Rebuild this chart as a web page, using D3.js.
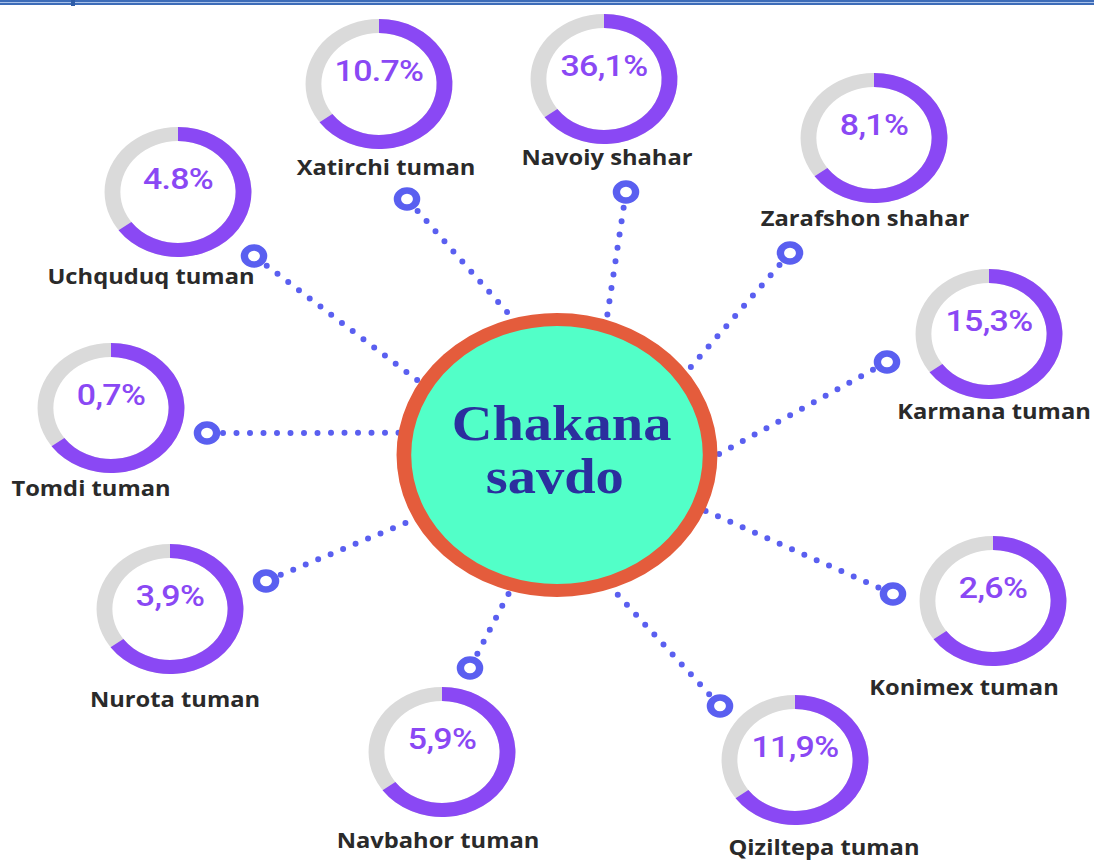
<!DOCTYPE html>
<html>
<head>
<meta charset="utf-8">
<script src="https://cdn.jsdelivr.net/npm/d3@7"></script>
<style>
  html, body { margin: 0; padding: 0; background: #fff; }
  svg { display: block; }
</style>
</head>
<body>
<svg id="chart" width="1094" height="863"></svg>
<script>
// data
const regions = ["Xatirchi tuman", "Navoiy shahar", "Uchquduq tuman", "Zarafshon shahar", "Karmana tuman",
                 "Tomdi tuman", "Nurota tuman", "Navbahor tuman", "Qiziltepa tuman", "Konimex tuman"];
const shares = [10.7, 36.1, 4.8, 8.1, 15.3, 0.7, 3.9, 5.9, 11.9, 2.6];
const shareLabels = ["10.7%", "36,1%", "4.8%", "8,1%", "15,3%", "0,7%", "3,9%", "5,9%", "11,9%", "2,6%"];
const centerTitle = ["Chakana", "savdo"];

// layout (screen px): donut centre, label centre/baseline, connector node, hub angle
const donutPos = [[379, 84], [604, 79], [178, 192], [874, 138], [989, 334],
                  [111, 408], [170, 609], [442, 752], [795, 760], [993, 601]];
const labelPos = [[386, 175], [607, 165], [151, 284], [865, 226], [994, 419],
                  [91, 496], [175, 707], [438, 848], [824, 855], [964, 695]];
const nodePos = [[407, 199], [626, 192], [254, 256], [790, 253], [887, 362],
                 [207, 433], [266, 581], [470, 668], [720, 706], [893, 594]];
const hubAngle = [254, 288, 211, 324, 0, 189, 153, 107, 70, 23];

const sx = 1.13;               // the whole picture is a bit stretched sideways
const hub = {x: 557, y: 455, r: 142};
const ringShare = 0.65;        // each ring is drawn with the same filled part

const svg = d3.select("#chart");

// header rule at the very top
svg.append("rect").attr("x", 0).attr("y", 0).attr("width", 1094).attr("height", 2).attr("fill", "#3d6cb8");
svg.append("rect").attr("x", 0).attr("y", 2).attr("width", 1094).attr("height", 1).attr("fill", "#a9c1e9");
svg.append("rect").attr("x", 0).attr("y", 3).attr("width", 1094).attr("height", 2).attr("fill", "#3d6cb8");
svg.append("rect").attr("x", 71).attr("y", 0).attr("width", 4).attr("height", 6).attr("fill", "#2f5da8");

// dotted connectors
const lines = svg.append("g");
nodePos.forEach((p, i) => {
    const a = hubAngle[i] * Math.PI / 180;
    const ex = hub.x + hub.r * sx * Math.cos(a),
          ey = hub.y + hub.r * Math.sin(a);
    const dx = ex - p[0], dy = ey - p[1];
    const len = Math.hypot(dx, dy);
    const sxp = p[0] + dx / len * 16, syp = p[1] + dy / len * 16;
    lines.append("line")
        .attr("x1", sxp).attr("y1", syp)
        .attr("x2", ex).attr("y2", ey)
        .attr("stroke", "#5a5ff0")
        .attr("stroke-width", 6)
        .attr("stroke-linecap", "round")
        .attr("stroke-dasharray", "0 13.5");
});

// centre bubble
const hubG = svg.append("g")
    .attr("transform", "translate(" + hub.x + "," + hub.y + ") scale(" + sx + ",1)");
hubG.append("circle")
    .attr("r", hub.r - 6.5)
    .attr("fill", "#52ffc8")
    .attr("stroke", "#e45c3c")
    .attr("stroke-width", 13);
hubG.selectAll("text.title")
    .data(centerTitle)
    .enter().append("text")
    .attr("class", "title")
    .attr("x", (d, i) => i === 0 ? 4 : -2)
    .attr("y", (d, i) => i === 0 ? -15 : 38)
    .attr("text-anchor", "middle")
    .style("font-family", "'Liberation Serif', 'Times New Roman', serif")
    .style("font-weight", "bold")
    .style("font-size", "50px")
    .style("fill", "#2b2f9e")
    .text(d => d);

// connector nodes
svg.selectAll(".node")
    .data(nodePos)
    .enter().append("g")
    .attr("class", "node")
    .attr("transform", d => "translate(" + d[0] + "," + d[1] + ") scale(" + sx + ",1)")
    .append("circle")
    .attr("r", 8.5)
    .attr("fill", "#fff")
    .attr("stroke", "#5a5ff0")
    .attr("stroke-width", 6.5);

// donuts
const arc = d3.arc().innerRadius(51).outerRadius(65);
const donut = svg.selectAll(".donut")
    .data(regions.map((r, i) => ({name: r, value: shares[i], label: shareLabels[i], i: i})))
    .enter().append("g")
    .attr("class", "donut")
    .attr("transform", d => "translate(" + donutPos[d.i][0] + "," + donutPos[d.i][1] + ") scale(" + sx + ",1)");

donut.append("path")
    .attr("d", arc({startAngle: 0, endAngle: 2 * Math.PI}))
    .attr("fill", "#dadada");
donut.append("path")
    .attr("d", arc({startAngle: 0, endAngle: 2 * Math.PI * ringShare}))
    .attr("fill", "#8a48f4");
donut.append("text")
    .attr("y", -3)
    .attr("text-anchor", "middle")
    .style("font-family", "Roboto, sans-serif")
    .style("font-weight", 500)
    .style("font-size", "30px")
    .style("letter-spacing", "-0.6px")
    .style("fill", "#8a48f4")
    .text(d => d.label);

// region labels
svg.selectAll(".label")
    .data(regions)
    .enter().append("g")
    .attr("class", "label")
    .attr("transform", (d, i) => "translate(" + labelPos[i][0] + "," + labelPos[i][1] + ") scale(" + sx + ",1)")
    .append("text")
    .attr("text-anchor", "middle")
    .style("font-family", "'Open Sans', sans-serif")
    .style("font-weight", 700)
    .style("font-size", "21px")
    .style("fill", "#2a2a2a")
    .text(d => d);
</script>
</body>
</html>
